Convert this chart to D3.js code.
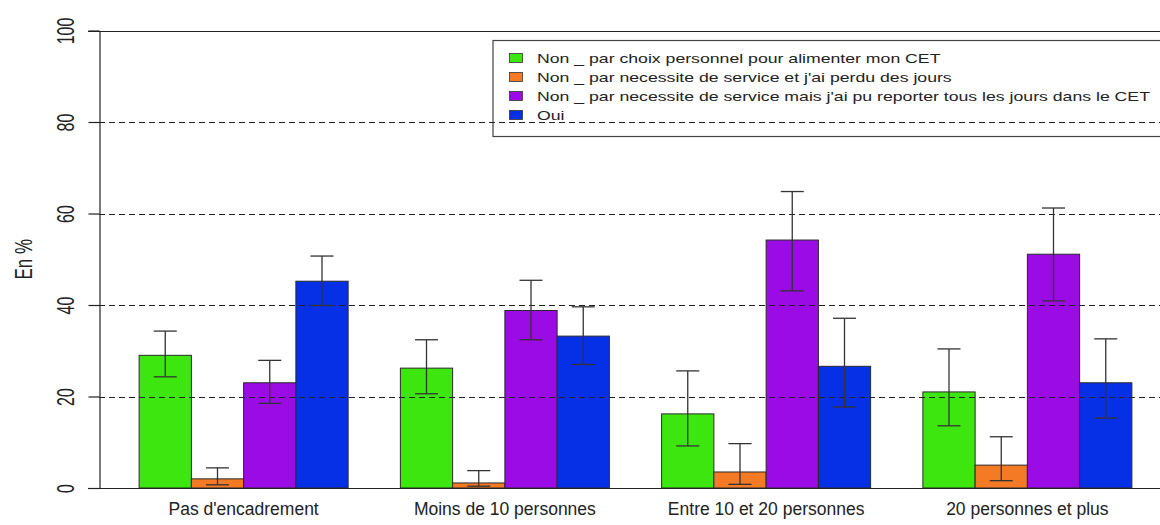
<!DOCTYPE html>
<html>
<head>
<meta charset="utf-8">
<script src="https://cdn.jsdelivr.net/npm/d3@7"></script>
<style>
  html, body { margin: 0; padding: 0; background: #fff; }
  svg { display: block; }
  text { font-family: "Liberation Sans", Arial, sans-serif; fill: #222; }
</style>
</head>
<body>
<svg id="chart" width="1160" height="525"></svg>
<script>
// ---- data ----
const categories = ["Pas d'encadrement", "Moins de 10 personnes", "Entre 10 et 20 personnes", "20 personnes et plus"];
const seriesNames = [
  "Non _ par choix personnel pour alimenter mon CET",
  "Non _ par necessite de service et j'ai perdu des jours",
  "Non _ par necessite de service mais j'ai pu reporter tous les jours dans le CET",
  "Oui"
];
const seriesColors = ["#3DE60E", "#F47A26", "#9A0BE6", "#0630E6"];
const valuesChoix    = [29.0, 26.2, 16.2, 21.0];
const valuesPerdu    = [2.0, 1.1, 3.5, 5.0];
const valuesReporter = [23.0, 38.8, 54.2, 51.1];
const valuesOui      = [45.2, 33.2, 26.6, 23.0];
const lowChoix    = [24.3, 20.6, 9.2, 13.6];
const lowPerdu    = [0.7, 0.4, 0.8, 1.6];
const lowReporter = [18.5, 32.4, 43.1, 40.9];
const lowOui      = [39.9, 27.0, 17.7, 15.3];
const highChoix    = [34.3, 32.4, 25.6, 30.4];
const highPerdu    = [4.4, 3.8, 9.7, 11.2];
const highReporter = [27.9, 45.4, 64.8, 61.2];
const highOui      = [50.7, 39.6, 37.1, 32.6];
const yTicks = [0, 20, 40, 60, 80, 100];
const gridValues = [20, 40, 60, 80];
const yLabel = "En %";

const values = [valuesChoix, valuesPerdu, valuesReporter, valuesOui];
const lows = [lowChoix, lowPerdu, lowReporter, lowOui];
const highs = [highChoix, highPerdu, highReporter, highOui];

const rows = [];
categories.forEach((c, ci) => {
  seriesNames.forEach((s, si) => {
    rows.push({cat: c, series: si, value: values[si][ci], low: lows[si][ci], high: highs[si][ci]});
  });
});

// ---- layout ----
const svg = d3.select("#chart");
const axisX = 99, rightEdge = 1160;
const y = d3.scaleLinear().domain([0, 100]).range([488, 30.5]);
const x0 = d3.scaleBand().domain(categories).range([113, 1158]).paddingInner(0.2).paddingOuter(0.1);
const x1 = d3.scaleBand().domain(d3.range(seriesNames.length)).range([0, x0.bandwidth()]).padding(0);

// legend box (drawn first, transparent)
const lg = svg.append("g");
lg.append("rect").attr("x", 493).attr("y", 40.5).attr("width", 720).attr("height", 96)
  .attr("fill", "none").attr("stroke", "#444").attr("stroke-width", 1.2);
seriesNames.forEach((s, i) => {
  const cy = 58 + i * 19;
  lg.append("rect").attr("x", 509.5).attr("y", cy - 4.5).attr("width", 13).attr("height", 9)
    .attr("fill", seriesColors[i]).attr("stroke", "#333").attr("stroke-width", 0.8);
  lg.append("text").attr("transform", `translate(537,${cy}) scale(1.36,1)`).attr("dy", "0.35em")
    .style("font-size", "13px").text(s);
});

// bars
svg.append("g").selectAll("rect").data(rows).join("rect")
  .attr("x", d => x0(d.cat) + x1(d.series))
  .attr("y", d => y(d.value))
  .attr("width", x1.bandwidth())
  .attr("height", d => y(0) - y(d.value))
  .attr("fill", d => seriesColors[d.series])
  .attr("stroke", "#2a2a2a").attr("stroke-width", 1);

// dashed grid lines (on top of bars)
svg.append("g").selectAll("line").data(gridValues).join("line")
  .attr("x1", axisX).attr("x2", rightEdge)
  .attr("y1", d => Math.round(y(d)) + 0.5).attr("y2", d => Math.round(y(d)) + 0.5)
  .attr("stroke", "#222").attr("stroke-width", 1).attr("stroke-dasharray", "6,4");

// error bars
const eb = svg.append("g").attr("stroke", "#333").attr("stroke-width", 1.3);
const cap = 11.5;
rows.forEach(d => {
  const cx = x0(d.cat) + x1(d.series) + x1.bandwidth() / 2;
  eb.append("line").attr("x1", cx).attr("x2", cx).attr("y1", y(d.low)).attr("y2", y(d.high));
  eb.append("line").attr("x1", cx - cap).attr("x2", cx + cap).attr("y1", y(d.low)).attr("y2", y(d.low));
  eb.append("line").attr("x1", cx - cap).attr("x2", cx + cap).attr("y1", y(d.high)).attr("y2", y(d.high));
});

// top and bottom lines
[0, 100].forEach(v => {
  svg.append("line").attr("x1", 88).attr("x2", rightEdge)
    .attr("y1", Math.round(y(v)) + 0.5).attr("y2", Math.round(y(v)) + 0.5)
    .attr("stroke", "#222").attr("stroke-width", 1.2);
});

// y axis
const yAxis = d3.axisLeft(y).tickValues(yTicks).tickSize(11).tickSizeOuter(0).tickPadding(0);
const ga = svg.append("g").attr("transform", `translate(${axisX + 0.5},0)`).call(yAxis);
ga.select(".domain").attr("stroke", "#222").attr("stroke-width", 1.2);
ga.selectAll(".tick line").attr("stroke", "#222").attr("stroke-width", 1.2);
ga.selectAll(".tick text")
  .attr("x", null).attr("dy", null)
  .attr("text-anchor", "middle")
  .attr("dominant-baseline", "central")
  .attr("transform", "translate(-34,0) scale(1.45,1) rotate(-90)")
  .attr("y", 0)
  .style("font-size", "16px").style("font-family", "'Liberation Sans', Arial, sans-serif").attr("fill", "#222");

// y label
svg.append("text")
  .attr("transform", `translate(23.5,${y(50)}) scale(1.4,1) rotate(-90)`)
  .attr("text-anchor", "middle").attr("dominant-baseline", "central")
  .style("font-size", "17px").text(yLabel);

// category labels
svg.append("g").selectAll("text").data(categories).join("text")
  .attr("x", d => x0(d) + x0.bandwidth() / 2)
  .attr("y", 515)
  .attr("text-anchor", "middle")
  .style("font-size", "17.5px")
  .text(d => d);
</script>
</body>
</html>
